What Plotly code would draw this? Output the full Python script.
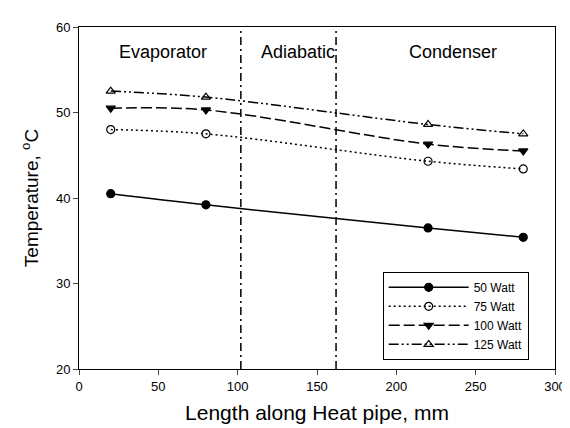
import plotly.graph_objects as go

# ---- data ----
length_mm = [20, 80, 220, 280]
t_50w = [40.5, 39.2, 36.5, 35.4]
t_75w = [48.0, 47.5, 44.3, 43.4]
t_100w = [50.5, 50.3, 46.3, 45.5]
t_125w = [52.5, 51.8, 48.6, 47.5]

series_names = ["50 Watt", "75 Watt", "100 Watt", "125 Watt"]
region_bounds = [102, 162]
region_labels = ["Evaporator", "Adiabatic", "Condenser"]
region_label_x = [53, 138, 236]
region_label_y = 57.1

x_ticks = [0, 50, 100, 150, 200, 250, 300]
y_ticks = [20, 30, 40, 50, 60]

FONT = "Liberation Sans, Arial, sans-serif"

styles = [
    dict(dash="solid", symbol="circle"),
    dict(dash="2px,3px", symbol="circle-open"),
    dict(dash="11px,4px", symbol="triangle-down"),
    dict(dash="10px,3px,2px,3px,2px,3px", symbol="triangle-up-open"),
]

fig = go.Figure()
for name, ys, st in zip(series_names, [t_50w, t_75w, t_100w, t_125w], styles):
    fig.add_trace(go.Scatter(
        x=length_mm, y=ys, name=name, mode="lines+markers",
        line=dict(color="black", width=1.5, dash=st["dash"], shape="spline", smoothing=1),
        marker=dict(symbol=st["symbol"], size=8, color="black",
                    line=dict(color="black", width=1.2)),
    ))

for xb in region_bounds:
    fig.add_shape(type="line", xref="x", yref="paper", x0=xb, x1=xb, y0=0, y1=1,
                  line=dict(color="black", width=1.5, dash="8px,4px,2px,4px"))

for lbl, lx in zip(region_labels, region_label_x):
    fig.add_annotation(x=lx, y=region_label_y, xref="x", yref="y", text=lbl,
                       showarrow=False, font=dict(family=FONT, size=18, color="black"))

fig.update_layout(
    width=570, height=428,
    margin=dict(l=71, r=14, t=13, b=67),
    paper_bgcolor="white", plot_bgcolor="white",
    font=dict(family=FONT, color="black"),
    showlegend=True,
    legend=dict(
        x=0.638, y=0.284, xanchor="left", yanchor="top",
        bordercolor="black", borderwidth=1, bgcolor="white",
        font=dict(family=FONT, size=12, color="black"),
        itemwidth=80, tracegroupgap=0,
    ),
    xaxis=dict(
        range=[0, 300], tickvals=x_ticks, ticks="outside", ticklen=5,
        showline=True, linecolor="black", linewidth=1, mirror=True,
        showgrid=False, zeroline=False, tickfont=dict(size=13),
        title=dict(text="Length along Heat pipe, mm", font=dict(size=21), standoff=12),
    ),
    yaxis=dict(
        range=[20, 60], tickvals=y_ticks, ticks="outside", ticklen=5,
        showline=True, linecolor="black", linewidth=1, mirror=True,
        showgrid=False, zeroline=False, tickfont=dict(size=13),
        title=dict(text="Temperature, <sup>o</sup>C", font=dict(size=19), standoff=12),
    ),
)

fig.write_html("out.html")
